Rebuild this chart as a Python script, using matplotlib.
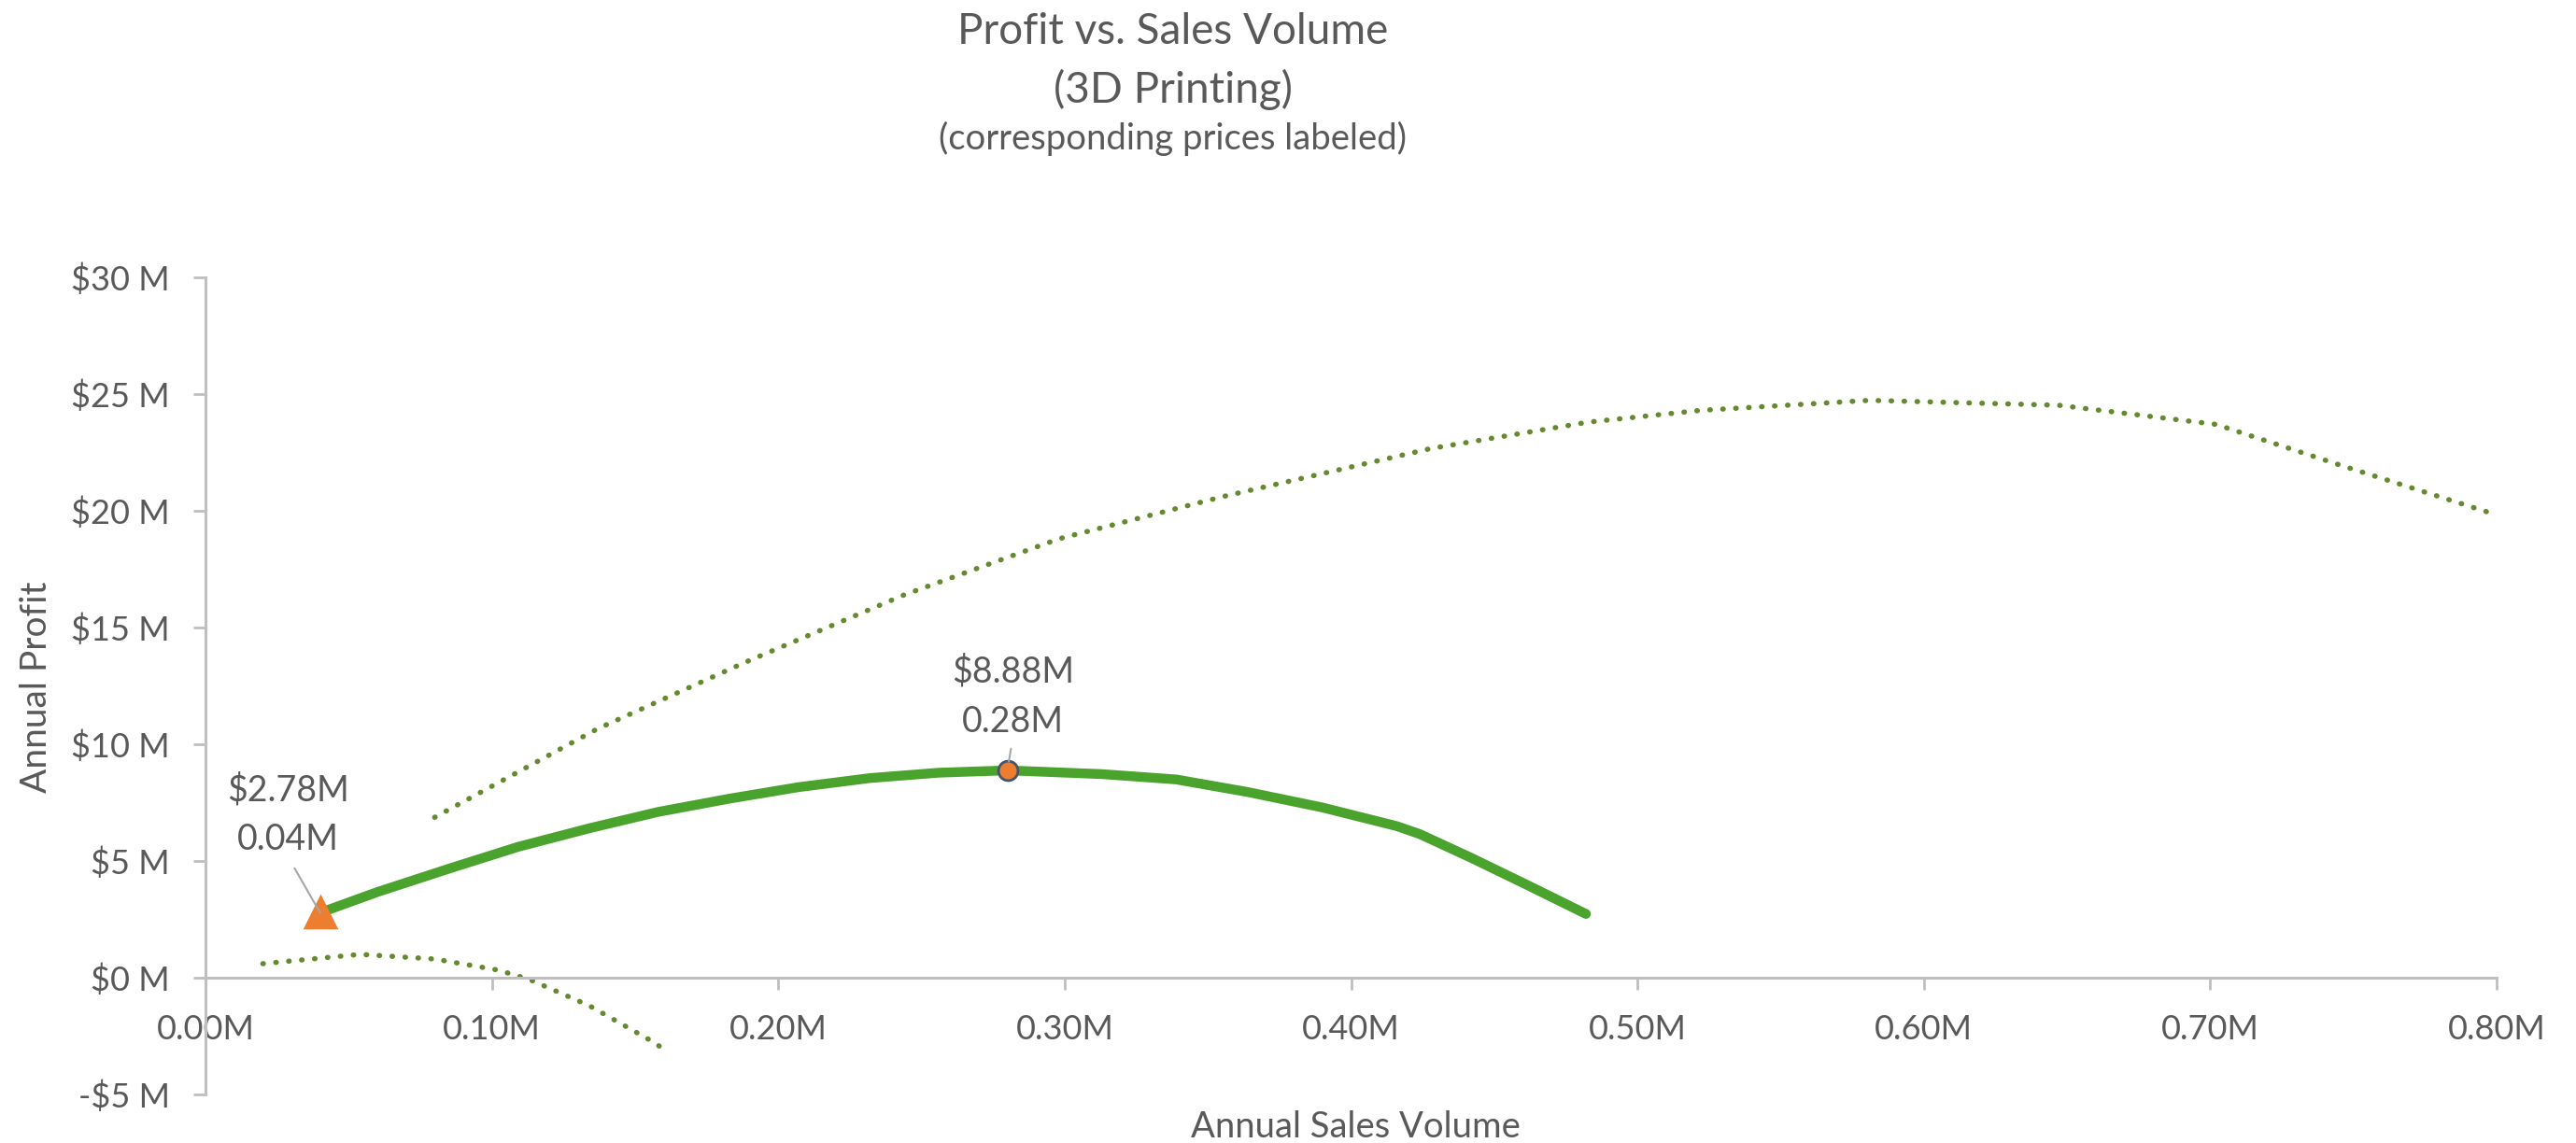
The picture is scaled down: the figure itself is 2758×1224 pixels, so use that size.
import matplotlib
matplotlib.use("Agg")
import matplotlib.pyplot as plt

plt.rcParams["font.family"] = ["Lato", "DejaVu Sans"]

# Annual sales volume (millions of units) and annual profit ($ millions)
profit_volume = [0.040, 0.060, 0.085, 0.109, 0.134, 0.158, 0.183, 0.207, 0.232,
                 0.256, 0.280, 0.313, 0.339, 0.364, 0.390, 0.416, 0.424, 0.442,
                 0.461, 0.482]
profit_values = [2.78, 3.67, 4.67, 5.60, 6.40, 7.10, 7.67, 8.16, 8.55,
                 8.78, 8.88, 8.72, 8.49, 7.95, 7.29, 6.49, 6.15, 5.13,
                 4.00, 2.73]

# Upper reference curve
upper_volume = [0.080, 0.137, 0.189, 0.244, 0.298, 0.355, 0.428, 0.483, 0.522,
                0.581, 0.647, 0.702, 0.745, 0.798]
upper_values = [6.87, 10.67, 13.54, 16.40, 18.80, 20.60, 22.67, 23.80, 24.30,
                24.73, 24.52, 23.70, 21.97, 19.90]

# Lower reference curve
lower_volume = [0.020, 0.054, 0.080, 0.102, 0.113, 0.134, 0.156, 0.160]
lower_values = [0.60, 1.00, 0.80, 0.33, -0.07, -1.20, -2.73, -3.06]

# Highlighted points: (volume, profit)
low_point = (0.04, 2.78)
peak_point = (0.28, 8.88)

x_ticks = [0.0, 0.1, 0.2, 0.3, 0.4, 0.5, 0.6, 0.7, 0.8]
x_tick_labels = ["0.00M", "0.10M", "0.20M", "0.30M", "0.40M", "0.50M", "0.60M", "0.70M", "0.80M"]
y_ticks = [-5, 0, 5, 10, 15, 20, 25, 30]
y_tick_labels = ["-$5 M", "$0 M", "$5 M", "$10 M", "$15 M", "$20 M", "$25 M", "$30 M"]

TEXT = "#595959"
AXIS = "#bfbfbf"
GREEN = "#4aa32d"
DOT_GREEN = "#638a2e"
ORANGE = "#ed7d31"

fig = plt.figure(figsize=(27.58, 12.24), dpi=100)
ax = fig.add_axes([0.0798, 0.0425, 0.8894, 0.7149])
ax.set_xlim(0, 0.8)
ax.set_ylim(-5, 30)

for side in ("top", "right"):
    ax.spines[side].set_visible(False)
ax.spines["bottom"].set_position(("data", 0))
for side in ("bottom", "left"):
    ax.spines[side].set_color(AXIS)
    ax.spines[side].set_linewidth(2.2)

ax.set_xticks(x_ticks)
ax.set_xticklabels(x_tick_labels)
ax.set_yticks(y_ticks)
ax.set_yticklabels(y_tick_labels)
ax.tick_params(axis="x", direction="out", length=9.4, width=2, color=AXIS,
               pad=19, labelsize=26, labelcolor=TEXT)
ax.tick_params(axis="y", direction="out", length=9.4, width=2, color=AXIS,
               pad=18, labelsize=26, labelcolor=TEXT)

# Dotted reference curves
dot_style = dict(color=DOT_GREEN, lw=4, linestyle=(0, (0.1, 2.4)),
                 dash_capstyle="round", zorder=2)
ax.plot(upper_volume, upper_values, **dot_style)
ax.plot(lower_volume, lower_values, **dot_style)

# Profit curve
ax.plot(profit_volume, profit_values, color=GREEN, lw=7.5,
        solid_capstyle="round", solid_joinstyle="round", zorder=3)

# Highlighted points
ax.plot(*low_point, marker="^", ms=23, color=ORANGE, mec=ORANGE, mew=2.5,
        linestyle="none", zorder=4)
ax.plot(*peak_point, marker="o", ms=15, mfc=ORANGE, mec="#44546a", mew=2,
        linestyle="none", zorder=4)

label_kw = dict(textcoords="offset points", ha="center", va="center",
                fontsize=27, color=TEXT, linespacing=1.6, zorder=5)
ax.annotate(f"${low_point[1]:.2f}M\n{low_point[0]:.2f}M", xy=low_point,
            xytext=(-24.8, 75.6),
            arrowprops=dict(arrowstyle="-", color="#a6a6a6", lw=1.5,
                            shrinkA=8, shrinkB=0, relpos=(0.5, 0)),
            **label_kw)
ax.annotate(f"${peak_point[1]:.2f}M\n{peak_point[0]:.2f}M", xy=peak_point,
            xytext=(4, 57),
            arrowprops=dict(arrowstyle="-", color="#a6a6a6", lw=1.5,
                            shrinkA=6, shrinkB=7, relpos=(0.5, 0)),
            **label_kw)

# Titles
fig.text(0.4554, 0.9618, "Profit vs. Sales Volume", ha="center", va="baseline",
         fontsize=33, color=TEXT)
fig.text(0.4554, 0.9101, "(3D Printing)", ha="center", va="baseline",
         fontsize=33, color=TEXT)
fig.text(0.4554, 0.8693, "(corresponding prices labeled)", ha="center",
         va="baseline", fontsize=27.5, color=TEXT)

# Axis titles
fig.text(0.5261, 0.005, "Annual Sales Volume", ha="center", va="baseline",
         fontsize=27.5, color=TEXT)
fig.text(0.0140, 0.3987, "Annual Profit", ha="center", va="center",
         rotation=90, fontsize=28, color=TEXT)

fig.savefig("out.png", dpi=100, facecolor="white")
